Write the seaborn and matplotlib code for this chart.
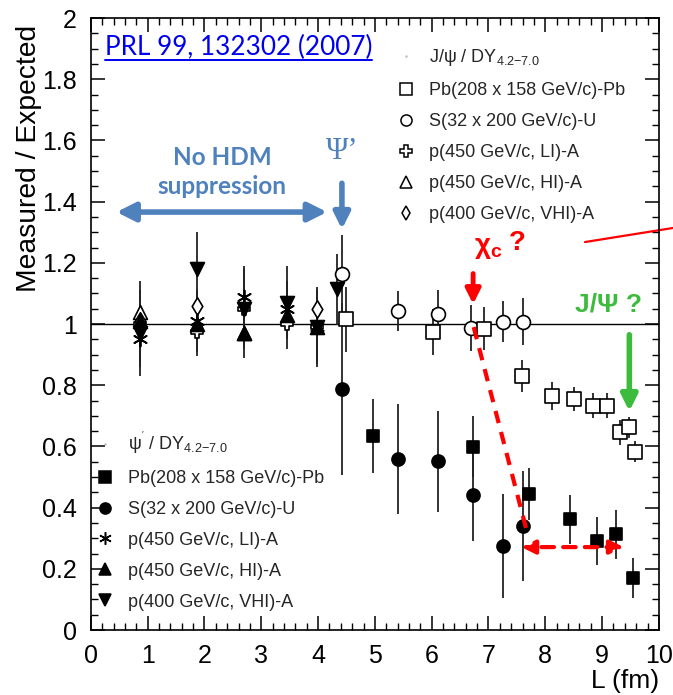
import numpy as np
import pandas as pd
import matplotlib
matplotlib.use("Agg")
import matplotlib.pyplot as plt
from matplotlib.lines import Line2D
from matplotlib.ticker import MultipleLocator, FuncFormatter
import seaborn as sns

# ---------------- data ----------------
# J/psi / DY (open markers)
jpsi_pb_x = [4.50, 6.02, 6.92, 7.59, 8.11, 8.51, 8.84, 9.09, 9.31, 9.47, 9.58]
jpsi_pb_y = [1.015, 0.975, 0.985, 0.83, 0.766, 0.755, 0.733, 0.733, 0.646, 0.662, 0.583]
jpsi_pb_e = [0.105, 0.075, 0.07, 0.053, 0.046, 0.04, 0.04, 0.04, 0.04, 0.035, 0.035]

jpsi_su_x = [4.43, 5.41, 6.11, 6.70, 7.26, 7.61]
jpsi_su_y = [1.162, 1.042, 1.032, 0.987, 1.008, 1.008]
jpsi_su_e = [0.13, 0.065, 0.08, 0.075, 0.068, 0.077]

jpsi_li_x = [0.87, 1.87, 2.69, 3.46, 3.98]
jpsi_li_y = [1.00, 0.975, 1.05, 1.00, 0.99]
jpsi_hi_x = [0.87, 2.69]
jpsi_hi_y = [1.04, 0.97]
jpsi_vhi_x = [0.87, 1.87, 3.98]
jpsi_vhi_y = [1.01, 1.06, 1.05]

# psi' / DY (filled markers)
psip_pb_x = [4.96, 6.72, 7.72, 8.43, 8.91, 9.25, 9.54]
psip_pb_y = [0.634, 0.599, 0.443, 0.362, 0.292, 0.313, 0.169]
psip_pb_e = [0.12, 0.10, 0.085, 0.08, 0.078, 0.08, 0.065]

psip_su_x = [4.42, 5.41, 6.11, 6.72, 7.26, 7.61]
psip_su_y = [0.788, 0.559, 0.552, 0.441, 0.275, 0.341]
psip_su_e = [0.28, 0.18, 0.165, 0.15, 0.17, 0.18]

psip_li_x = [0.87, 1.87, 2.69, 3.46, 3.98]
psip_li_y = [0.95, 1.01, 1.09, 1.05, 0.99]
psip_li_e = [0.09, 0.10, 0.10, 0.09, 0.10]

psip_hi_x = [0.87, 1.87, 2.69, 3.46, 3.98]
psip_hi_y = [1.01, 1.00, 0.97, 1.03, 0.99]
psip_hi_e = [0.13, 0.105, 0.08, 0.11, 0.12]

psip_vhi_x = [0.87, 1.87, 2.69, 3.46, 3.98, 4.33]
psip_vhi_y = [0.97, 1.18, 1.05, 1.07, 0.99, 1.113]
psip_vhi_e = [0.14, 0.12, 0.13, 0.12, 0.13, 0.115]

labels_sys = ["Pb(208 x 158 GeV/c)-Pb", "S(32 x 200 GeV/c)-U",
              "p(450 GeV/c, LI)-A", "p(450 GeV/c, HI)-A", "p(400 GeV/c, VHI)-A"]

# ---------------- style ----------------
sns.set_theme(style="ticks")
plt.rcParams["font.family"] = ["Liberation Sans", "DejaVu Sans"]
plt.rcParams["mathtext.fontset"] = "custom"
plt.rcParams["mathtext.rm"] = "Liberation Sans"
plt.rcParams["mathtext.it"] = "Liberation Sans:italic"
plt.rcParams["mathtext.bf"] = "Liberation Sans:bold"

fig = plt.figure(figsize=(6.73, 6.95), dpi=100)
ax = fig.add_axes([0.135, 0.0935, 0.844, 0.8805])

ax.axhline(1.0, color="black", lw=1.0, zorder=1)

ERR_KW = dict(fmt="none", ecolor="#222222", elinewidth=1.3, capsize=0, zorder=2)

def series(x, y, e, marker, face, size, z=3, lw=1.2):
    if e is not None:
        ax.errorbar(x, y, yerr=e, **ERR_KW)
    df = pd.DataFrame({"x": x, "y": y})
    sns.scatterplot(data=df, x="x", y="y", marker=marker, s=size,
                    facecolor=face, edgecolor="black", linewidth=lw,
                    ax=ax, zorder=z, legend=False)

asterisk = (6, 2, 0)

# psi' filled (they carry the large error bars)
series(psip_li_x, psip_li_y, psip_li_e, asterisk, "black", 100, z=4, lw=1.3)
series(psip_hi_x, psip_hi_y, psip_hi_e, "^", "black", 100, z=4)
series(psip_vhi_x, psip_vhi_y, psip_vhi_e, "v", "black", 100, z=4)
series(psip_su_x, psip_su_y, psip_su_e, "o", "black", 88, z=4)
series(psip_pb_x, psip_pb_y, psip_pb_e, "s", "black", 85, z=4)

# J/psi open
series(jpsi_li_x, jpsi_li_y, None, "P", "white", 80, z=3)
series(jpsi_hi_x, jpsi_hi_y, None, "^", "white", 100, z=3)
series(jpsi_vhi_x, jpsi_vhi_y, None, "d", "white", 80, z=3)
series(jpsi_su_x, jpsi_su_y, jpsi_su_e, "o", "white", 100, z=3)
series(jpsi_pb_x, jpsi_pb_y, jpsi_pb_e, "s", "white", 112, z=3)

# ---------------- axes ----------------
ax.set_xlim(0, 10)
ax.set_ylim(0, 2)
ax.xaxis.set_major_locator(MultipleLocator(1))
ax.xaxis.set_minor_locator(MultipleLocator(0.2))
ax.yaxis.set_major_locator(MultipleLocator(0.2))
ax.yaxis.set_minor_locator(MultipleLocator(0.05))
fmt = FuncFormatter(lambda v, p: f"{v:.1f}".rstrip("0").rstrip(".") if abs(v) > 1e-9 else "0")
ax.xaxis.set_major_formatter(FuncFormatter(lambda v, p: f"{int(round(v))}"))
ax.yaxis.set_major_formatter(fmt)
ax.tick_params(which="both", direction="in", top=True, right=True, color="black",
               labelsize=18, labelcolor="black")
ax.tick_params(which="major", length=10, width=1.1, pad=10)
ax.tick_params(which="minor", length=5, width=1.0)
for s in ax.spines.values():
    s.set_color("black")
    s.set_linewidth(1.2)
ax.set_xlabel("L (fm)", fontsize=19, loc="right", labelpad=1, color="black")
ax.set_ylabel("Measured / Expected", fontsize=20.3, loc="top", color="black")
ax.yaxis.set_label_coords(-0.086, 0.989)

# ---------------- legends ----------------
LEG_KW = dict(frameon=False, fontsize=13, handlelength=0.8, handletextpad=0.85,
              labelspacing=0.77, borderaxespad=0.0)

def h(marker, face, ms=8):
    return Line2D([], [], ls="none", marker=marker, markersize=ms,
                  markerfacecolor=face, markeredgecolor="black", markeredgewidth=1.1)

dot = Line2D([], [], ls="none", marker=".", markersize=1.5, color="#bbbbbb")
upper_handles = [dot, h("s", "white", 9), h("o", "white", 8), h("P", "white", 8),
                 h("^", "white", 8), h("d", "white", 7)]
upper_labels = [r"J/ψ / DY$_{4.2\mathrm{-}7.0}$"] + labels_sys
leg1 = ax.legend(upper_handles, upper_labels, loc="upper left",
                 bbox_to_anchor=(0.53, 0.964), **LEG_KW)
ax.add_artist(leg1)

lower_handles = [dot, h("s", "black", 8), h("o", "black", 8), h(asterisk, "black", 9),
                 h("^", "black", 8), h("v", "black", 8)]
lower_labels = [r"ψ$^{'}$ / DY$_{4.2\mathrm{-}7.0}$"] + labels_sys
ax.legend(lower_handles, lower_labels, loc="lower left",
          bbox_to_anchor=(0.0, 0.02), **LEG_KW)

# ---------------- annotations ----------------
BLUE = "#4f81bd"
RED = "#ff0000"
GREEN = "#3dbb3d"

t = ax.text(0.25, 1.905, "PRL 99, 132302 (2007)", color="#0000ee", fontsize=18.8,
            family=["Lato", "DejaVu Sans"], ha="left", va="center")
fig.canvas.draw()
bb = t.get_window_extent().transformed(ax.transData.inverted())
ax.plot([bb.x0, bb.x1], [1.862, 1.862], color="#0000ee", lw=1.4, clip_on=False)

ax.text(2.31, 1.497, "No HDM\nsuppression", color=BLUE, fontsize=17.5, fontweight="bold",
        ha="center", va="center", linespacing=1.35, family=["Lato", "DejaVu Sans"])
ax.annotate("", xy=(0.45, 1.366), xytext=(4.16, 1.366),
            arrowprops=dict(arrowstyle="<|-|>", color=BLUE, lw=4, mutation_scale=28,
                            shrinkA=0, shrinkB=0))
ax.text(4.43, 1.565, "Ψ’", color=BLUE, fontsize=22, ha="center", va="center",
        family=["Liberation Serif", "DejaVu Serif"])
ax.annotate("", xy=(4.42, 1.31), xytext=(4.42, 1.46),
            arrowprops=dict(arrowstyle="-|>", color=BLUE, lw=4, mutation_scale=24,
                            shrinkA=0, shrinkB=0))

# chi_c
ax.text(6.75, 1.25, r"$\mathbf{\chi}_{\mathbf{c}}$", color=RED, fontsize=20,
        ha="left", va="center")
ax.text(7.35, 1.265, "?", color=RED, fontsize=20, fontweight="bold", ha="left", va="center")
ax.annotate("", xy=(6.73, 1.065), xytext=(6.73, 1.165),
            arrowprops=dict(arrowstyle="-|>", color=RED, lw=3.5, mutation_scale=22,
                            shrinkA=0, shrinkB=0))
ax.plot([6.74, 7.68], [0.99, 0.32], color=RED, lw=3, dashes=(3, 2.2), zorder=5)
ax.annotate("", xy=(7.58, 0.271), xytext=(9.38, 0.271),
            arrowprops=dict(arrowstyle="<|-|>", color=RED, lw=3, ls=(0, (3, 2.2)),
                            mutation_scale=20, shrinkA=0, shrinkB=0), zorder=5)

# J/psi
ax.text(9.12, 1.065, "J/Ψ ?", color=GREEN, fontsize=19, fontweight="bold",
        ha="center", va="center")
ax.annotate("", xy=(9.48, 0.715), xytext=(9.48, 0.965),
            arrowprops=dict(arrowstyle="-|>", color=GREEN, lw=4, mutation_scale=24,
                            shrinkA=0, shrinkB=0))

# red line leaving the frame
ax.plot([8.70, 10.25], [1.268, 1.314], color=RED, lw=1.6, clip_on=False)

fig.savefig("out.png", dpi=100)
